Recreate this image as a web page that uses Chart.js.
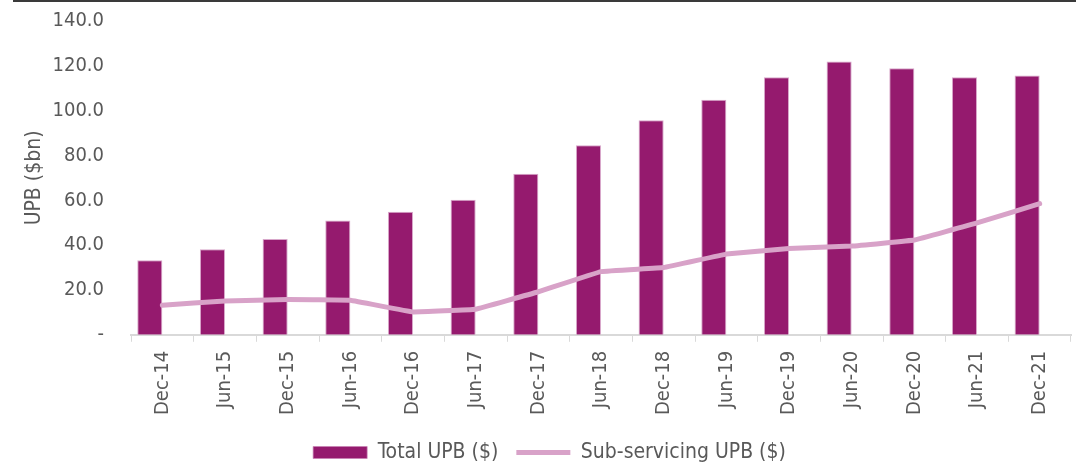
<!DOCTYPE html>
<html lang="en">
<head>
  <meta charset="UTF-8" />
  <title>UPB</title>
  <script src="https://cdn.jsdelivr.net/npm/chart.js"></script>
  <style>
    html, body {
      margin: 0;
      padding: 0;
      background: #ffffff;
      overflow: hidden;
    }
    #topRule {
      position: absolute;
      left: 13px;
      right: 0;
      top: 0;
      height: 2px;
      background: #3a3a3a;
    }
    #wrap {
      position: relative;
      width: 1076px;
      height: 473px;
    }
  </style>
</head>
<body>
  <div id="topRule"></div>
  <div id="wrap"><canvas id="upbChart"></canvas></div>

  <script>
    const periods = ["Dec-14", "Jun-15", "Dec-15", "Jun-16", "Dec-16", "Jun-17", "Dec-17", "Jun-18",
                     "Dec-18", "Jun-19", "Dec-19", "Jun-20", "Dec-20", "Jun-21", "Dec-21"];
    const totalUpb = [33.3, 38.2, 42.7, 51.0, 54.9, 60.3, 71.9, 84.6, 95.7, 104.9, 114.9, 121.9, 118.9, 114.9, 115.7];
    const subServicingUpb = [13.2, 15.1, 15.7, 15.4, 10.2, 11.4, 19.2, 28.2, 30.0, 36.0, 38.5, 39.6, 42.3, 49.9, 58.5];
    const emptySlot = periods.map(() => null);

    const font = "'DejaVu Sans Condensed', 'DejaVu Sans', sans-serif";
    const grey = "#595959";

    new Chart(document.getElementById("upbChart"), {
      data: {
        labels: periods,
        datasets: [
          {
            type: "bar",
            label: "Total UPB ($)",
            data: totalUpb,
            backgroundColor: "#951a6e",
            borderColor: "rgba(200,130,180,0.7)",
            borderWidth: 1,
            pointStyle: "rect",
            categoryPercentage: 0.8,
            barPercentage: 1.0,
            order: 2
          },
          {
            // empty slot so the bars sit left of the category centre, as in Excel
            type: "bar",
            label: "",
            data: emptySlot,
            backgroundColor: "rgba(0,0,0,0)",
            categoryPercentage: 0.8,
            barPercentage: 1.0,
            order: 3
          },
          {
            type: "line",
            label: "Sub-servicing UPB ($)",
            data: subServicingUpb,
            borderColor: "#d8a2c8",
            backgroundColor: "#d8a2c8",
            borderWidth: 5,
            borderCapStyle: "round",
            borderJoinStyle: "round",
            pointStyle: "line",
            pointRadius: 0,
            tension: 0.05,
            order: 1
          }
        ]
      },
      options: {
        responsive: true,
        maintainAspectRatio: false,
        animation: false,
        layout: { padding: { top: 21, right: 5, left: 28, bottom: 0 } },
        plugins: {
          tooltip: { enabled: false },
          legend: {
            position: "bottom",
            labels: {
              font: { family: font, size: 21 },
              color: grey,
              usePointStyle: true,
              pointStyleWidth: 54,
              boxHeight: 12,
              padding: 18,
              filter: item => item.text !== "",
              sort: (a, b) => a.datasetIndex - b.datasetIndex
            }
          }
        },
        scales: {
          x: {
            offset: true,
            grid: {
              display: true,
              drawOnChartArea: false,
              offset: true,
              color: "#d9d9d9",
              tickLength: 7
            },
            border: { color: "#d9d9d9", width: 2 },
            ticks: {
              font: { family: font, size: 20 },
              color: grey,
              minRotation: 90,
              maxRotation: 90,
              padding: 9
            }
          },
          y: {
            min: 0,
            max: 140,
            afterFit: scale => { scale.width = 103; },
            grid: { display: false, drawTicks: true, tickLength: 27 },
            border: { display: false },
            ticks: {
              stepSize: 20,
              font: { family: font, size: 20 },
              color: grey,
              padding: 0,
              callback: v => v === 0 ? "-" : v.toFixed(1)
            },
            title: {
              display: true,
              text: "UPB ($bn)",
              font: { family: font, size: 21 },
              color: grey,
              padding: { top: -6, bottom: 0 }
            }
          }
        }
      }
    });
  </script>
</body>
</html>
